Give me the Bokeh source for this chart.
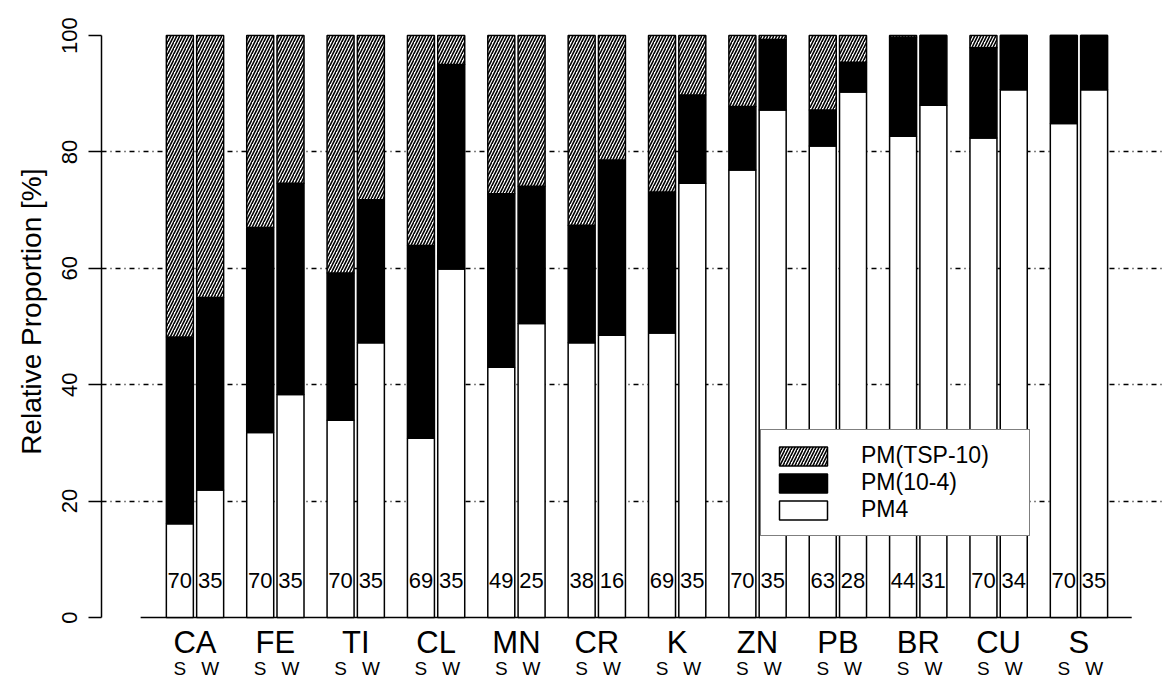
from bokeh.plotting import figure
from bokeh.models import (Range1d, FixedTicker, Legend, LegendItem, ColumnDataSource, Title)
from bokeh.core.properties import value
from bokeh.embed import file_html
from bokeh.resources import INLINE

# ---- data ----
elements = ["CA", "FE", "TI", "CL", "MN", "CR", "K", "ZN", "PB", "BR", "CU", "S"]
# PM4 share [%], summer (S) and winter (W)
pm4_s = [16.1, 31.8, 33.9, 30.8, 43.0, 47.2, 48.9, 76.9, 81.0, 82.7, 82.4, 84.9]
pm4_w = [21.9, 38.3, 47.2, 59.9, 50.5, 48.5, 74.6, 87.2, 90.3, 88.0, 90.7, 90.7]
# PM(10-4) share [%]
pm10_4_s = [32.1, 35.2, 25.3, 33.1, 29.8, 20.2, 24.2, 10.9, 6.2, 17.0, 15.5, 15.1]
pm10_4_w = [33.1, 36.3, 24.6, 35.1, 23.6, 30.1, 15.2, 12.1, 5.1, 12.0, 9.3, 9.3]
# number of samples
n_s = [70, 70, 70, 69, 49, 38, 69, 70, 63, 44, 70, 70]
n_w = [35, 35, 35, 35, 25, 16, 35, 35, 28, 31, 34, 35]
seasons = ["S", "W"]
y_ticks = [0, 20, 40, 60, 80, 100]
grid_ticks = [20, 40, 60, 80]

FONT = "Liberation Sans"
OFF = 0.1885      # half distance between S and W bar centres (group units)
BW = 0.336        # bar width (group units)

x_groups = list(range(len(elements)))
xs = [g - OFF for g in x_groups]
xw = [g + OFF for g in x_groups]

def stack(x, pm4, pm104, n):
    top10 = [a + b for a, b in zip(pm4, pm104)]
    return ColumnDataSource(dict(x=x, pm4=pm4, top10=top10,
                                 full=[100] * len(x), zero=[0] * len(x),
                                 n=[str(v) for v in n]))

src_s = stack(xs, pm4_s, pm10_4_s, n_s)
src_w = stack(xw, pm4_w, pm10_4_w, n_w)

p = figure(width=1163, height=679, output_backend="svg", toolbar_location=None,
           x_axis_location=None, min_border_left=101, min_border_right=0,
           min_border_top=31, min_border_bottom=0,
           x_range=Range1d(-1.1635, 12.052), y_range=Range1d(-10.653, 100.69))
p.outline_line_color = None
p.background_fill_color = "white"

# y axis
ya = p.yaxis[0]
ya.ticker = FixedTicker(ticks=y_ticks)
ya.bounds = (0, 100)
ya.axis_line_width = 1.5
ya.major_tick_line_width = 1.5
ya.major_tick_out = 13
ya.major_tick_in = 0
ya.minor_tick_line_color = None
ya.major_label_orientation = "vertical"
ya.major_label_text_font = FONT
ya.major_label_text_font_size = "22px"
ya.major_label_text_color = "black"
ya.major_label_standoff = 11

ytitle = Title(text="Relative Proportion [%]", align="right", offset=137,
               vertical_align="middle",
               text_font=FONT, text_font_size="28px", text_font_style="normal",
               text_color="black", standoff=24)
p.add_layout(ytitle, "left")

p.ygrid.ticker = FixedTicker(ticks=grid_ticks)
p.ygrid.grid_line_color = "black"
p.ygrid.grid_line_width = 1.3
p.ygrid.grid_line_dash = "5 4 1 4"
p.xgrid.visible = False

# baseline
p.segment(x0=[xs[0] - BW / 2 - 0.32], x1=[xw[-1] + BW / 2 + 0.3], y0=[0], y1=[0],
          line_color="black", line_width=1.5)

rend = {}
for name, src in (("s", src_s), ("w", src_w)):
    r_pm4 = p.vbar(x="x", width=BW, bottom="zero", top="pm4", source=src,
                   fill_color="white", line_color="black", line_width=1.5)
    r_104 = p.vbar(x="x", width=BW, bottom="pm4", top="top10", source=src,
                   fill_color="black", line_color="black", line_width=1.5)
    r_tsp = p.vbar(x="x", width=BW, bottom="top10", top="full", source=src,
                   fill_color="white", line_color="black", line_width=1.5,
                   hatch_pattern="/", hatch_color="black", hatch_scale=6,
                   hatch_weight=1.6)
    rend[name] = (r_pm4, r_104, r_tsp)
    p.text(x="x", y="zero", text="n", source=src, text_align="center",
           text_baseline="alphabetic", y_offset=-37.5, text_font=value(FONT),
           text_font_size="22px", text_color="black")

# category labels under the axis
p.text(x=x_groups, y=[0] * len(x_groups), text=elements, text_align="center",
       text_baseline="alphabetic", y_offset=24.5, text_font=value(FONT),
       text_font_size="31px", text_color="black")
p.text(x=xs + xw, y=[0] * (2 * len(x_groups)),
       text=[seasons[0]] * len(xs) + [seasons[1]] * len(xw),
       text_align="center", text_baseline="alphabetic", y_offset=51,
       text_font=value(FONT), text_font_size="19px", text_color="black")

legend = Legend(items=[
    LegendItem(label="PM(TSP-10)", renderers=[rend["s"][2]]),
    LegendItem(label="PM(10-4)", renderers=[rend["s"][1]]),
    LegendItem(label="PM4", renderers=[rend["s"][0]]),
], location=(659, 143))
legend.glyph_width = 60
legend.glyph_height = 24
legend.spacing = 0
legend.padding = 12
legend.margin = 0
legend.label_standoff = 28
legend.label_width = 156
legend.label_text_font = FONT
legend.label_text_font_size = "23px"
legend.label_text_color = "black"
legend.border_line_color = "black"
legend.border_line_width = 1.5
legend.background_fill_color = "white"
legend.background_fill_alpha = 1.0
p.add_layout(legend)

open("out.html", "w").write(file_html(p, INLINE))
